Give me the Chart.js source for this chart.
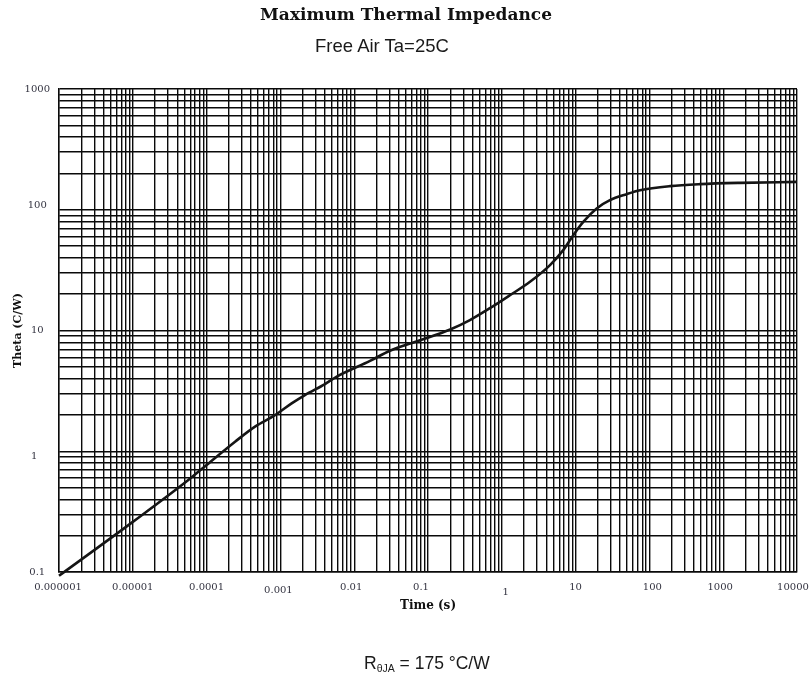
<!DOCTYPE html>
<html>
<head>
<meta charset="utf-8">
<script src="https://cdn.jsdelivr.net/npm/chart.js@4.4.1/dist/chart.umd.min.js"></script>
<style>
html,body{margin:0;padding:0;background:#fff;}
#wrap{position:relative;width:812px;height:678px;overflow:hidden;}
#c{position:absolute;left:0;top:0;}
.txt{position:absolute;font-family:"Liberation Sans",Arial,sans-serif;color:#1a1a1a;white-space:nowrap;}
.txt sub{font-size:10.5px;vertical-align:-3px;line-height:0;}
</style>
</head>
<body>
<div id="wrap">
<canvas id="c" width="812" height="678"></canvas>
<div class="txt" id="subtitle" style="left:315px;top:35px;font-size:18.5px;line-height:22px;">Free Air Ta=25C</div>
<div class="txt" id="rja" style="left:364px;top:652.5px;font-size:17.5px;line-height:21px;">R<sub>θJA</sub> = 175 °C/W</div>
</div>
<script>
// ---- data ----
const timeValues  = [1e-6, 1e-5, 5.65e-5, 1e-4, 2.43e-4, 4.53e-4, 8.45e-4, 1.42e-3, 2.15e-3, 4.02e-3, 5.8e-3, 0.0164, 0.0305, 0.078, 0.2, 0.37, 0.69, 1.29, 2.41, 4.5, 6.8, 9.3, 12.7, 19.3, 29.2, 49.2, 74.6, 190, 485, 1690, 10000];
const thetaValues = [0.093, 0.26, 0.578, 0.77, 1.20, 1.60, 1.99, 2.49, 2.92, 3.6, 4.15, 5.6, 6.8, 8.3, 10.2, 12.2, 15.3, 19.6, 25.3, 34.8, 46.3, 61.6, 79.4, 102.5, 120, 134.6, 145, 157, 163, 167, 170];

const xTickValues = [1e-6, 1e-5, 1e-4, 1e-3, 1e-2, 1e-1, 1, 10, 100, 1000, 10000];
const xTickLabels = ['0.000001', '0.00001', '0.0001', '0.001', '0.01', '0.1', '1', '10', '100', '1000', '10000'];
const yTickValues = [0.1, 1, 10, 100, 1000];
const yTickLabels = ['0.1', '1', '10', '100', '1000'];

const chartTitle = 'Maximum Thermal Impedance';
const xTitle = 'Time (s)';
const yTitle = 'Theta (C/W)';

// ---- chart ----
const gridColor = '#0a0a0a';
const tickColor = '#333340';

// small label offsets (px) reproducing the reference's slightly irregular label placement
const labelNudges = {
  x: { '0.000001': [-1, 0], '0.001': [-2, 3], '0.01': [-3, 0], '0.1': [-7, 0], '1': [4, 5], '100': [3, 0], '1000': [-3, 0], '10000': [-4, 0] },
  y: { '100': [0, -4], '1': [-3, 5] }
};

function logGridTicks(majors) {
  return function (scale) {
    const t = [];
    for (let i = 0; i < majors.length - 1; i++) {
      for (let d = 1; d < 10; d++) t.push({ value: majors[i] * d });
    }
    t.push({ value: majors[majors.length - 1] });
    scale.ticks = t;
  };
}
function labelFor(values, labels) {
  return function (value) {
    const i = values.findIndex(v => Math.abs(Math.log10(v) - Math.log10(value)) < 1e-7);
    return i >= 0 ? labels[i] : '';
  };
}

const nudgePlugin = {
  id: 'labelNudge',
  beforeDraw(chart) {
    for (const axis of ['x', 'y']) {
      const s = chart.scales[axis];
      const items = s.getLabelItems();
      items.forEach(it => {
        const n = labelNudges[axis][it.label];
        if (n && !it._nudged) {
          it.options.translation[0] += n[0];
          it.options.translation[1] += n[1];
          it._nudged = true;
        }
      });
    }
  }
};

const points = timeValues.map((t, i) => ({ x: t, y: thetaValues[i] }));

new Chart(document.getElementById('c'), {
  type: 'line',
  data: {
    datasets: [{
      data: points,
      borderColor: '#151515',
      borderWidth: 2.6,
      pointRadius: 0,
      cubicInterpolationMode: 'monotone',
      fill: false,
      clip: false
    }]
  },
  plugins: [nudgePlugin],
  options: {
    responsive: false,
    animation: false,
    devicePixelRatio: 1,
    layout: { padding: { left: 0, right: 0, top: 0, bottom: 0 } },
    plugins: {
      legend: { display: false },
      tooltip: { enabled: false },
      title: {
        display: true,
        text: chartTitle,
        color: '#111',
        font: { family: '"DejaVu Serif", serif', size: 17, weight: 'bold', lineHeight: 1.2 },
        padding: { top: 5, bottom: 63.6 }
      }
    },
    scales: {
      x: {
        type: 'logarithmic',
        min: 1e-6,
        max: 1e4,
        afterBuildTicks: logGridTicks(xTickValues),
        afterFit: s => { s.height = 106; s.paddingRight = 15; s.paddingLeft = 0; },
        grid: { color: gridColor, lineWidth: 1.4, drawTicks: false },
        border: { color: gridColor, width: 1.4 },
        ticks: {
          autoSkip: false,
          maxRotation: 0,
          minRotation: 0,
          padding: 9,
          color: tickColor,
          font: { family: '"DejaVu Serif", serif', size: 10 },
          callback: labelFor(xTickValues, xTickLabels)
        },
        title: {
          display: true,
          text: xTitle,
          color: '#111',
          font: { family: '"DejaVu Serif", serif', size: 12, weight: 'bold' },
          padding: { top: 4, bottom: 64.8 }
        }
      },
      y: {
        type: 'logarithmic',
        min: 0.1,
        max: 1000,
        afterBuildTicks: logGridTicks(yTickValues),
        afterFit: s => { s.width = 59; },
        grid: { color: gridColor, lineWidth: 1.4, drawTicks: false },
        border: { color: gridColor, width: 1.4 },
        ticks: {
          autoSkip: false,
          padding: 9,
          crossAlign: 'center',
          color: tickColor,
          font: { family: '"DejaVu Serif", serif', size: 10 },
          callback: labelFor(yTickValues, yTickLabels)
        },
        title: {
          display: true,
          text: yTitle,
          color: '#111',
          font: { family: '"DejaVu Serif", serif', size: 11, weight: 'bold' },
          padding: { top: 11.4, bottom: 4 }
        }
      }
    }
  }
});
</script>
</body>
</html>
